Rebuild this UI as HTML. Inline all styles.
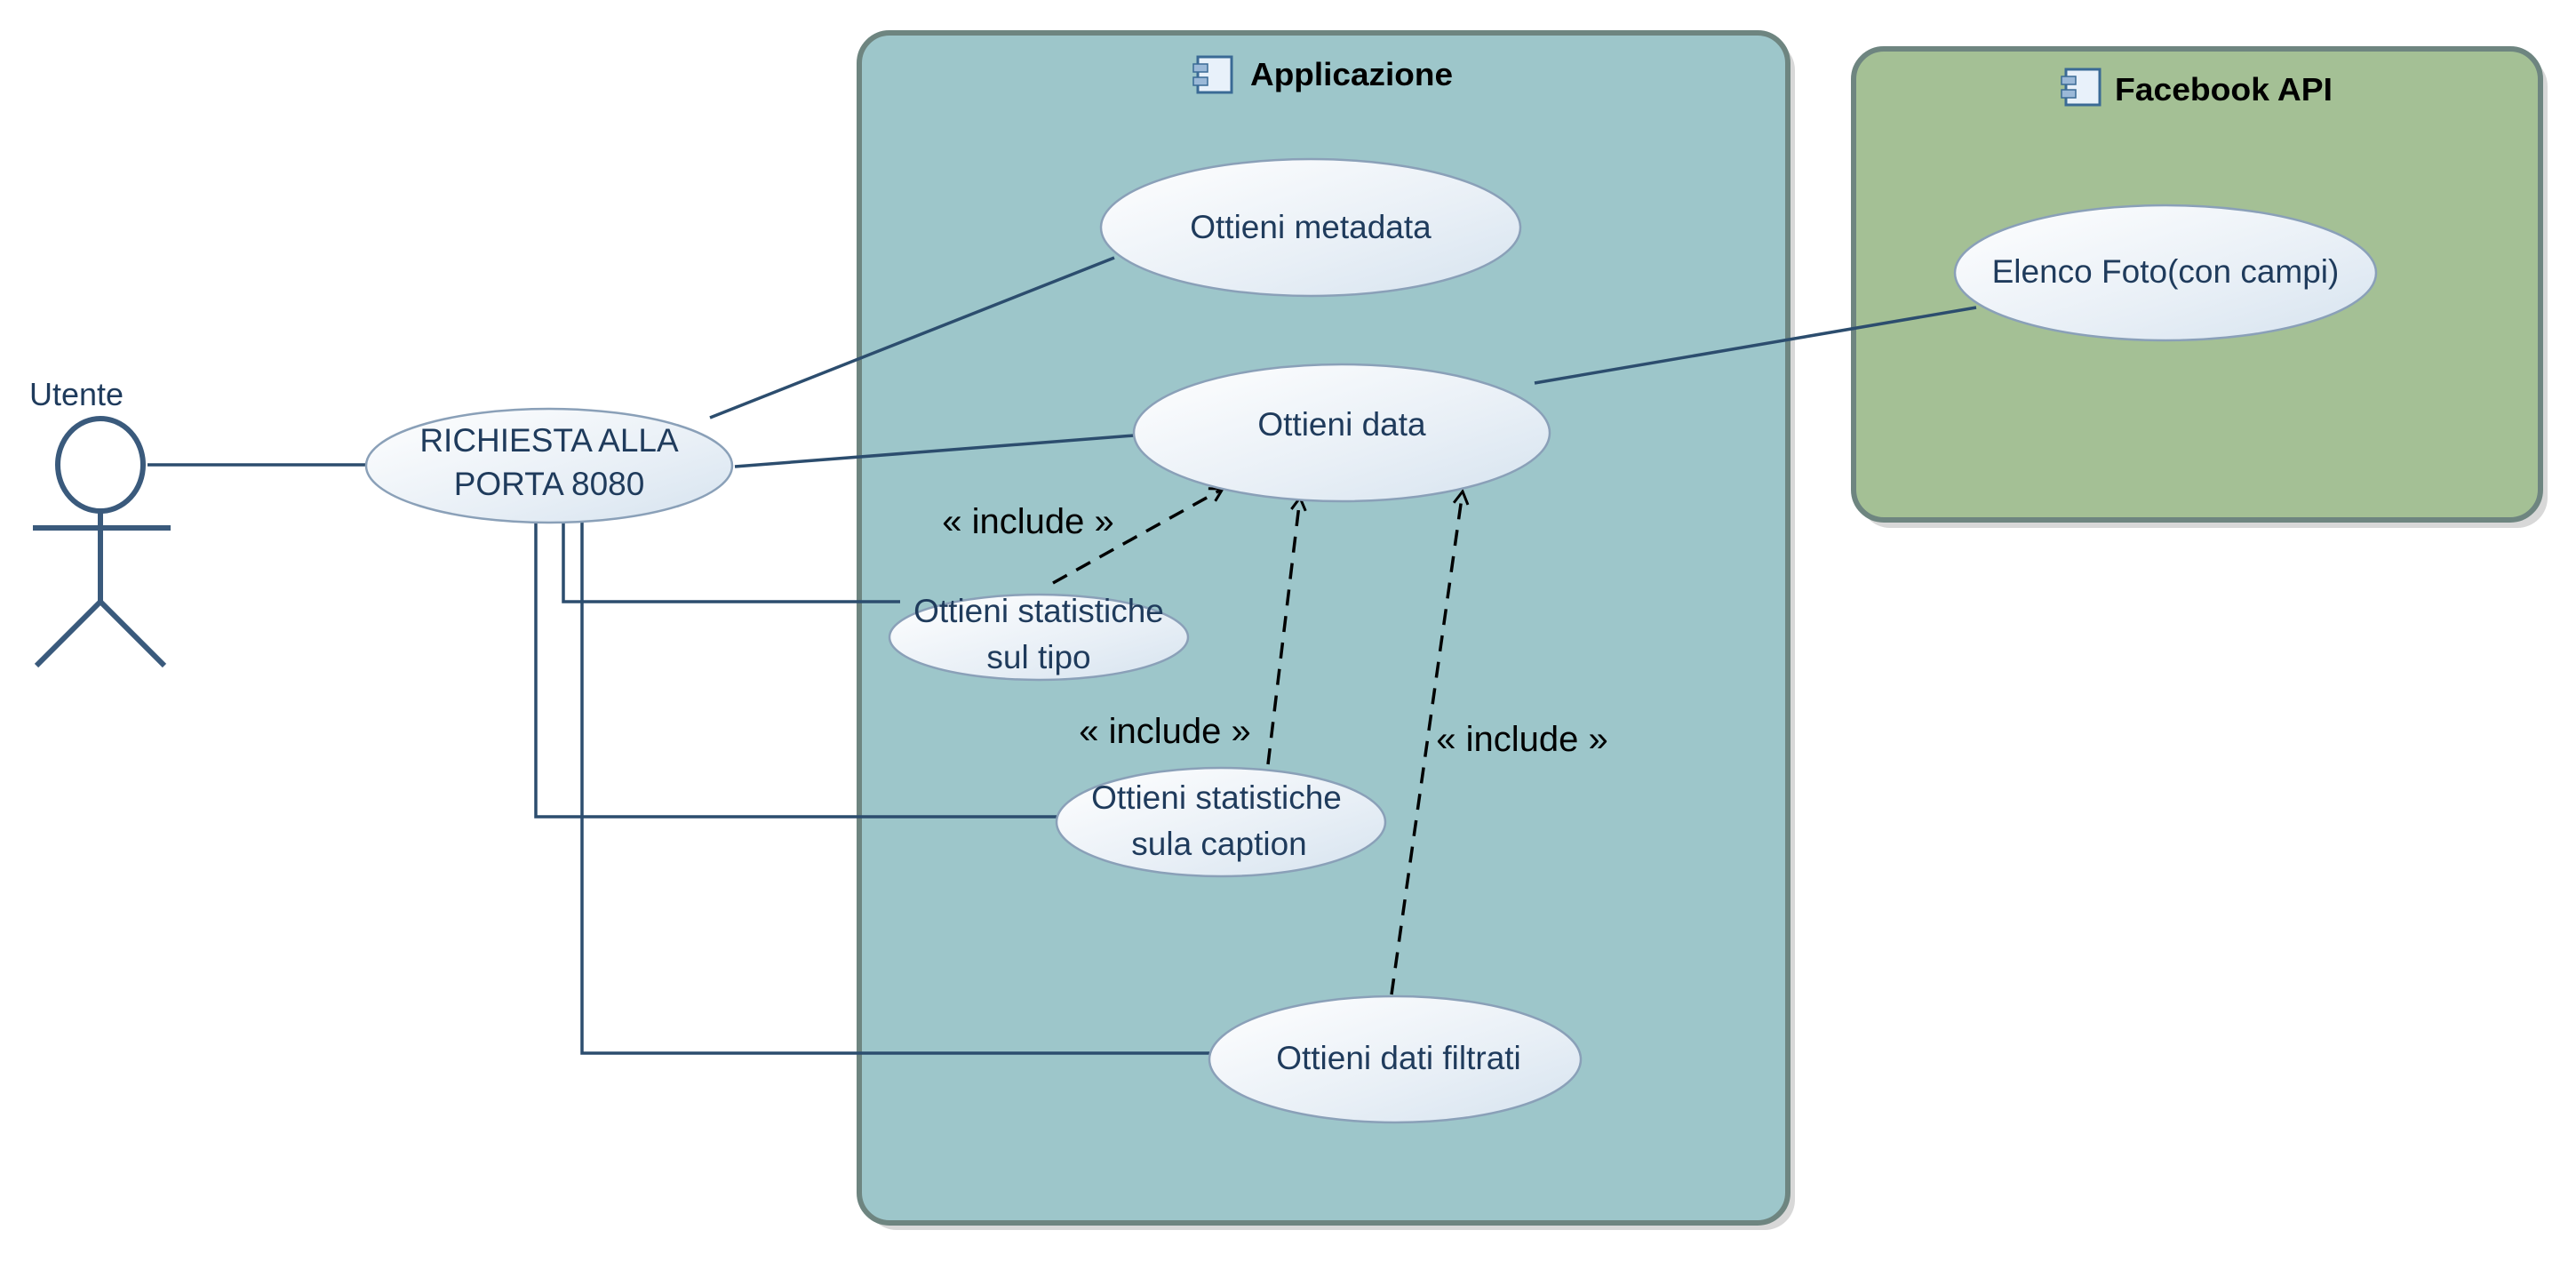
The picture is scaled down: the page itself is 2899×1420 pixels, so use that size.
<!DOCTYPE html>
<html><head><meta charset="utf-8"><style>
html,body{margin:0;padding:0;background:#fff;}
svg{display:block;}
text{font-family:"Liberation Sans",sans-serif;}
</style></head><body>
<svg width="2899" height="1420" viewBox="0 0 2899 1420" xmlns="http://www.w3.org/2000/svg">
<defs>
<linearGradient id="eg" x1="0" y1="0" x2="1" y2="1">
<stop offset="0" stop-color="#ffffff"/><stop offset="0.6" stop-color="#e8eff6"/><stop offset="1" stop-color="#d6e3ef"/>
</linearGradient>
<marker id="ar" markerWidth="20" markerHeight="20" refX="16" refY="10" orient="auto" markerUnits="userSpaceOnUse">
<path d="M2,2 L16,10 L2,18" fill="none" stroke="#000" stroke-width="3"/>
</marker>
</defs>
<!-- shadows -->
<rect x="975" y="45" width="1045" height="1339" rx="34" fill="#d8d8d8"/>
<rect x="2093" y="63" width="774" height="531" rx="34" fill="#d8d8d8"/>
<!-- boxes -->
<rect x="967" y="37" width="1045" height="1339" rx="34" fill="#9dc6ca" stroke="#6e8580" stroke-width="6"/>
<rect x="2086" y="55" width="773" height="530" rx="34" fill="#a4c095" stroke="#6e8580" stroke-width="6"/>
<!-- titles -->
<g>
<rect x="1348" y="64" width="38" height="40" fill="#e8f1fa" stroke="#3a6a95" stroke-width="3"/>
<rect x="1343" y="72" width="16" height="9" fill="#9bb9d8" stroke="#3a6a95" stroke-width="1.5"/>
<rect x="1343" y="87" width="16" height="9" fill="#9bb9d8" stroke="#3a6a95" stroke-width="1.5"/>
<text x="1407" y="96" font-size="36" font-weight="bold" fill="#000" textLength="228" lengthAdjust="spacingAndGlyphs">Applicazione</text>
</g>
<g>
<rect x="2325" y="78" width="38" height="40" fill="#e8f1fa" stroke="#3a6a95" stroke-width="3"/>
<rect x="2320" y="86" width="16" height="9" fill="#9bb9d8" stroke="#3a6a95" stroke-width="1.5"/>
<rect x="2320" y="101" width="16" height="9" fill="#9bb9d8" stroke="#3a6a95" stroke-width="1.5"/>
<text x="2380" y="113" font-size="36" font-weight="bold" fill="#000" textLength="245" lengthAdjust="spacingAndGlyphs">Facebook API</text>
</g>
<!-- solid lines -->
<g stroke="#2c4d6e" stroke-width="3.5" fill="none">
<line x1="166" y1="523" x2="412" y2="523"/>
<line x1="799" y1="470" x2="1254" y2="290"/>
<line x1="827" y1="525" x2="1276" y2="490"/>
<line x1="1727" y1="431" x2="2224" y2="346"/>
<polyline points="634,588 634,677 1013,677"/>
<polyline points="603,588 603,919 1189,919"/>
<polyline points="655,588 655,1185 1361,1185"/>
</g>
<!-- dashed -->
<g stroke="#000" stroke-width="3.5" fill="none" stroke-dasharray="18,12">
<line x1="1185" y1="656" x2="1376" y2="550" marker-end="url(#ar)"/>
<line x1="1427" y1="860" x2="1463" y2="560" marker-end="url(#ar)"/>
<line x1="1566" y1="1119" x2="1646" y2="553" marker-end="url(#ar)"/>
</g>
<g font-size="40" fill="#000" text-anchor="middle">
<text x="1157" y="600">« include »</text>
<text x="1311" y="836">« include »</text>
<text x="1713" y="845">« include »</text>
</g>
<!-- actor -->
<g stroke="#3a5a7c" stroke-width="6" fill="none">
<ellipse cx="113" cy="523" rx="48" ry="52"/>
<line x1="37" y1="594" x2="192" y2="594"/>
<line x1="113" y1="575" x2="113" y2="677"/>
<line x1="113" y1="677" x2="41" y2="749"/>
<line x1="113" y1="677" x2="185" y2="749"/>
</g>
<text x="33" y="456" font-size="36" fill="#1f3b5c">Utente</text>
<!-- ellipses -->
<g fill="url(#eg)" stroke="#8aa0b8" stroke-width="2.5">
<ellipse cx="1475" cy="256" rx="236" ry="77"/>
<ellipse cx="1510" cy="487" rx="234" ry="77"/>
<ellipse cx="2437" cy="307" rx="237" ry="76"/>
<ellipse cx="618" cy="524" rx="206" ry="64"/>
<ellipse cx="1169" cy="717" rx="168" ry="48"/>
<ellipse cx="1374" cy="925" rx="185" ry="61"/>
<ellipse cx="1570" cy="1192" rx="209" ry="71"/>
</g>
<g font-size="37" fill="#1f3b5c" text-anchor="middle">
<text x="1475" y="268">Ottieni metadata</text>
<text x="1510" y="490">Ottieni data</text>
<text x="2437" y="318">Elenco Foto(con campi)</text>
<text x="618" y="508">RICHIESTA ALLA</text>
<text x="618" y="557">PORTA 8080</text>
<text x="1169" y="700">Ottieni statistiche</text>
<text x="1169" y="752">sul tipo</text>
<text x="1369" y="910">Ottieni statistiche</text>
<text x="1372" y="962">sula caption</text>
<text x="1574" y="1203">Ottieni dati filtrati</text>
</g>
</svg>
</body></html>
